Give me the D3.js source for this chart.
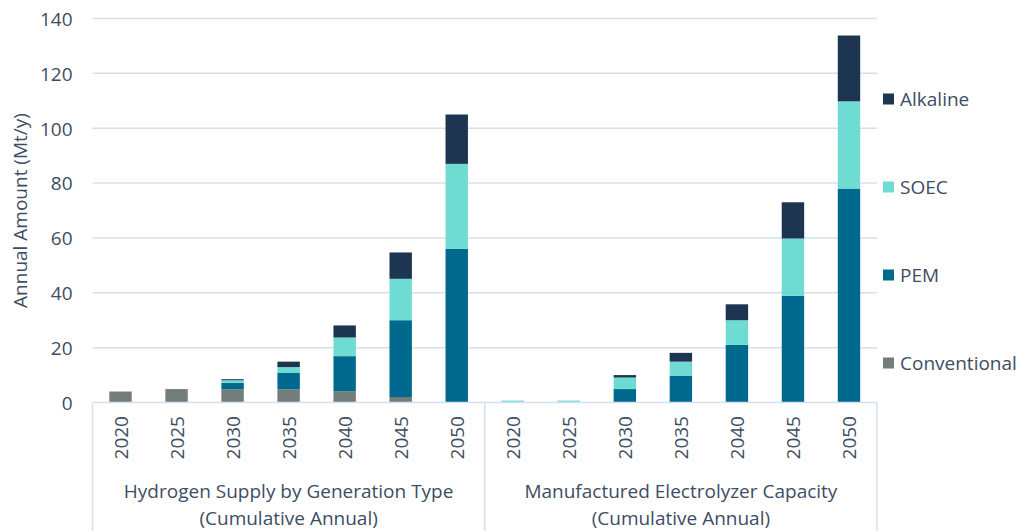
<!DOCTYPE html>
<html>
<head>
<meta charset="utf-8">
<script src="https://cdn.jsdelivr.net/npm/d3@7"></script>
<style>
  html,body{margin:0;padding:0;background:#fff;}
  svg{display:block;font-family:"Open Sans",sans-serif;}
</style>
</head>
<body>
<div id="chart"></div>
<script>
// stacked columns, two groups of years sharing one value axis
const years = ['2020','2025','2030','2035','2040','2045','2050'];
const groups = [
  ['Hydrogen Supply by Generation Type', '(Cumulative Annual)'],
  ['Manufactured Electrolyzer Capacity', '(Cumulative Annual)']
];
const seriesNames = ['Conventional','PEM','SOEC','Alkaline'];

// Hydrogen supply (Mt/y)
const supplyConventional = [4.0, 4.9, 4.8, 4.8, 4.1, 2.0, 0];
const supplyPEM          = [0, 0, 2.3, 6.1, 12.8, 28.0, 56.0];
const supplySOEC         = [0, 0, 1.0, 2.0, 6.8, 15.1, 31.0];
const supplyAlkaline     = [0, 0, 0.4, 2.0, 4.4, 9.6, 18.0];
// Electrolyzer capacity
const capConventional = [0, 0, 0, 0, 0, 0, 0];
const capPEM          = [0, 0, 4.9, 9.8, 21.0, 38.9, 78.0];
const capSOEC         = [0.7, 0.7, 4.2, 5.1, 9.0, 20.9, 31.8];
const capAlkaline     = [0, 0, 0.9, 3.2, 5.8, 13.2, 24.0];

const yTicks = [0,20,40,60,80,100,120,140];

const COL = {Conventional:'#737d7b', PEM:'#006a8e', SOEC:'#6fdcd4', Alkaline:'#1e3551'};
const TXT = '#3d4d64', GRID = '#d6e0ee';

const W = 1021, H = 531;
const m = {l:92.5, r:877, t:18.5, b:402.5};

const rows = [];
years.forEach((yr,i)=>rows.push({key:'a'+yr, year:yr, Conventional:supplyConventional[i], PEM:supplyPEM[i], SOEC:supplySOEC[i], Alkaline:supplyAlkaline[i]}));
years.forEach((yr,i)=>rows.push({key:'b'+yr, year:yr, Conventional:capConventional[i], PEM:capPEM[i], SOEC:capSOEC[i], Alkaline:capAlkaline[i]}));

const svg = d3.select('#chart').append('svg').attr('width',W).attr('height',H);

const x = d3.scaleBand().domain(rows.map(d=>d.key)).range([m.l, m.r]).paddingInner(0.6).paddingOuter(0.3);
const y = d3.scaleLinear().domain([0,140]).range([m.b, m.t]);

// gridlines
svg.append('g').selectAll('line').data(yTicks.filter(t=>t>0)).join('line')
  .attr('x1',m.l).attr('x2',m.r).attr('y1',d=>y(d)).attr('y2',d=>y(d))
  .attr('stroke',GRID).attr('stroke-width',1.5);

// y axis labels
const yAx = svg.append('g').attr('transform',`translate(${m.l},0)`)
  .call(d3.axisLeft(y).tickValues(yTicks).tickSize(0).tickPadding(20));
yAx.select('.domain').remove();
yAx.selectAll('text').attr('fill',TXT).attr('font-size',19).attr('font-family','"Open Sans",sans-serif').attr('dy','0.36em');

svg.append('text').attr('transform',`translate(27,${(y(0)+y(140))/2+0}) rotate(-90)`)
  .attr('text-anchor','middle').attr('font-size',19).attr('fill',TXT).text('Annual Amount (Mt/y)');

// stacked bars
const stack = d3.stack().keys(seriesNames)(rows);
svg.append('g').selectAll('g').data(stack).join('g').attr('fill',d=>COL[d.key])
  .selectAll('rect').data(d=>d.filter(p=>p[1]-p[0]>0)).join('rect')
  .attr('x',d=>x(d.data.key)).attr('width',x.bandwidth())
  .attr('y',d=>y(d[1])).attr('height',d=>y(d[0])-y(d[1]));

// category frame
const half = m.l + (m.r-m.l)/2;
const frame = svg.append('g').attr('stroke',GRID).attr('stroke-width',1.5);
frame.append('line').attr('x1',m.l).attr('x2',m.r).attr('y1',y(0)).attr('y2',y(0));
[m.l, half, m.r].forEach(vx=>frame.append('line').attr('x1',vx).attr('x2',vx).attr('y1',y(0)).attr('y2',H));

// year labels
svg.append('g').selectAll('text').data(rows).join('text')
  .attr('transform',d=>`translate(${x(d.key)+x.bandwidth()/2+7},416) rotate(-90)`)
  .attr('text-anchor','end').attr('font-size',19).attr('fill',TXT).text(d=>d.year);

// group labels
groups.forEach((g,i)=>{
  const cx = i===0 ? (m.l+half)/2 : (half+m.r)/2;
  g.forEach((line,j)=>svg.append('text').attr('x',cx).attr('y',498+j*27)
    .attr('text-anchor','middle').attr('font-size',19).attr('fill',TXT).text(line));
});

// legend
const leg = svg.append('g').selectAll('g').data(seriesNames.slice().reverse()).join('g')
  .attr('transform',(d,i)=>`translate(883,${99+i*88})`);
leg.append('rect').attr('x',0).attr('y',-5.5).attr('width',11).attr('height',11).attr('fill',d=>COL[d]);
leg.append('text').attr('x',17).attr('y',0).attr('dy','0.36em').attr('font-size',19).attr('fill',TXT).text(d=>d);
</script>
</body>
</html>
